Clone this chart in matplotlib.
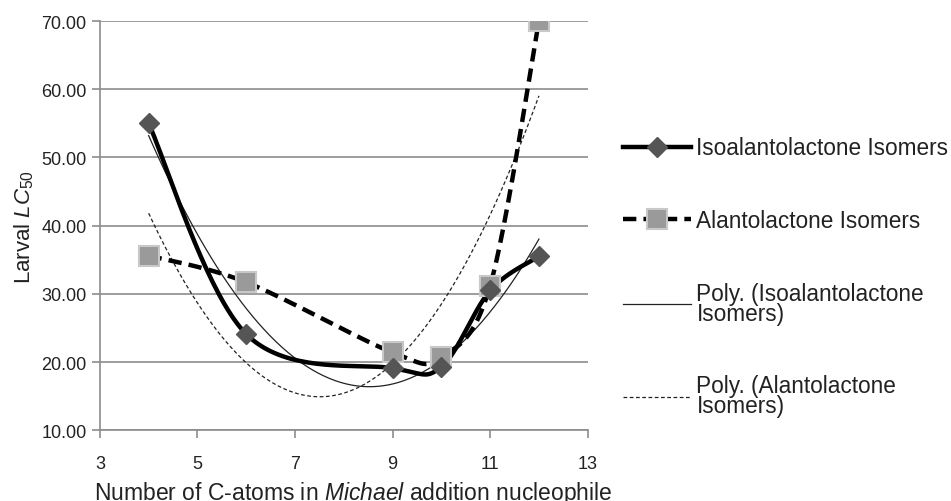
import numpy as np
import matplotlib
matplotlib.use("Agg")
import matplotlib.pyplot as plt
from matplotlib.ticker import FormatStrFormatter

plt.rcParams['font.family'] = ['Liberation Sans', 'DejaVu Sans']
plt.rcParams['mathtext.fontset'] = 'custom'
plt.rcParams['mathtext.rm'] = 'Liberation Sans'
plt.rcParams['mathtext.it'] = 'Liberation Sans:italic'

# data
iso_x = [4, 6, 9, 10, 11, 12]
iso_y = [55.0, 24.1, 19.1, 19.3, 30.5, 35.5]
alan_x = [4, 6, 9, 10, 11, 12]
alan_y = [35.6, 31.7, 21.4, 20.7, 31.2, 70.0]
labels = ["Isoalantolactone Isomers", "Alantolactone Isomers",
          "Poly. (Isoalantolactone\nIsomers)", "Poly. (Alantolactone\nIsomers)"]
x_ticks = [3, 5, 7, 9, 11, 13]
y_ticks = [10, 20, 30, 40, 50, 60, 70]


def smooth(x, y, n=40):
    # excel-like smoothed line (catmull-rom as bezier)
    pts = np.column_stack([x, y]).astype(float)
    P = np.vstack([pts[0], pts, pts[-1]])
    t = np.linspace(0, 1, n)[:, None]
    segs = []
    for i in range(1, len(P) - 2):
        p0, p1, p2, p3 = P[i - 1], P[i], P[i + 1], P[i + 2]
        c1 = p1 + (p2 - p0) / 6
        c2 = p2 - (p3 - p1) / 6
        segs.append((1 - t)**3 * p1 + 3 * (1 - t)**2 * t * c1
                    + 3 * (1 - t) * t**2 * c2 + t**3 * p2)
    s = np.vstack(segs)
    return s[:, 0], s[:, 1]


fig = plt.figure(figsize=(9.51, 5.02), dpi=100)
ax = fig.add_axes([0.105, 0.141, 0.513, 0.815])

xs = np.linspace(4, 12, 200)
p_iso = np.polyfit(iso_x, iso_y, 2)
p_alan = np.polyfit(alan_x, alan_y, 2)

sx, sy = smooth(iso_x, iso_y)
l1, = ax.plot(sx, sy, color='black', lw=3.2, zorder=3)
m1, = ax.plot(iso_x, iso_y, ls='none', marker='D', ms=10.5, color='#555555',
              mec='#555555', zorder=5)
sx, sy = smooth(alan_x, alan_y)
l2, = ax.plot(sx, sy, color='black', lw=3.2, ls=(0, (3, 1.6)), zorder=3)
m2, = ax.plot(alan_x, alan_y, ls='none', marker='s', ms=14, color='#9a9a9a',
              mec='#c8c8c8', mew=1.5, zorder=4)
t1, = ax.plot(xs, np.polyval(p_iso, xs), color='#222222', lw=0.9, zorder=2)
t2, = ax.plot(xs, np.polyval(p_alan, xs), color='#222222', lw=0.9,
              ls=(0, (3, 2)), zorder=2)

ax.set_xlim(3, 13)
ax.set_ylim(10, 70)
ax.set_xticks(x_ticks)
ax.set_yticks(y_ticks)
ax.yaxis.set_major_formatter(FormatStrFormatter('%.2f'))
ax.grid(axis='y', color='#8c8c8c', lw=1.2)
ax.set_axisbelow(True)
for s in ['top', 'right']:
    ax.spines[s].set_visible(False)
for s in ['left', 'bottom']:
    ax.spines[s].set_color('#8c8c8c')
    ax.spines[s].set_linewidth(1.2)
ax.tick_params(axis='both', direction='out', length=6, width=1.2,
               color='#8c8c8c', labelsize=13, labelcolor='#222222')
ax.tick_params(axis='x', pad=12)
ax.set_ylabel("Larval $\\it{LC}_{50}$", fontsize=16, color='#222222', labelpad=4)
ax.set_xlabel("Number of C-atoms in $\\it{Michael}$ addition nucleophile",
              fontsize=16.5, color='#222222', labelpad=5)
ax.xaxis.label.set_x(0.52)

h1 = (l1, m1)
h2 = (l2, m2)
leg = fig.legend([h1, h2, t1, t2], labels, loc='center left',
                 bbox_to_anchor=(0.655, 0.447), frameon=False, fontsize=16.3,
                 handlelength=3.0, handletextpad=0.25, labelspacing=2.2,
                 borderaxespad=0, borderpad=0)
for t in leg.get_texts():
    t.set_linespacing(0.8)
    t.set_color('#222222')

fig.savefig("out.png", dpi=100)
